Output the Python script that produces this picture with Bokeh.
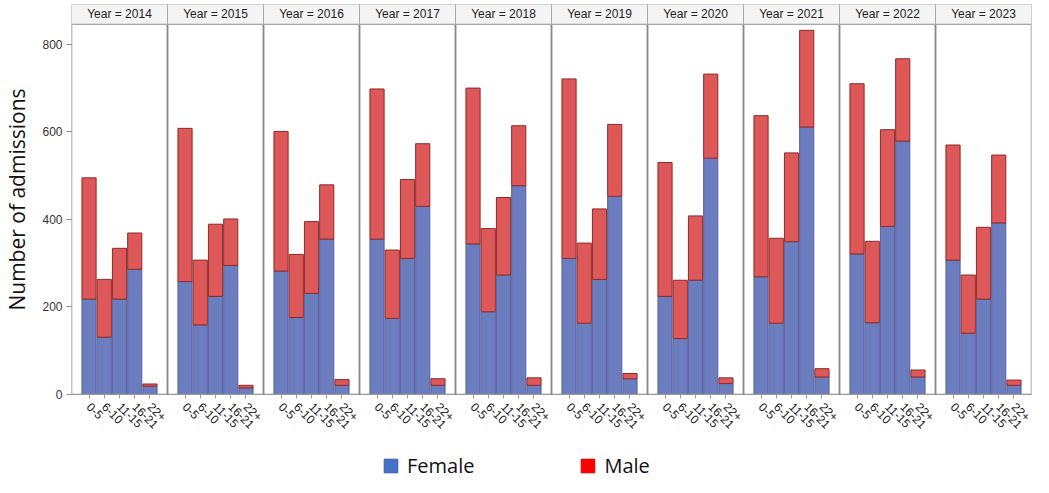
import math
from bokeh.plotting import figure
from bokeh.layouts import column
from bokeh.models import (FactorRange, ColumnDataSource, FixedTicker, Legend,
                          LegendItem, Range1d)
from bokeh.embed import file_html
from bokeh.resources import INLINE
from bokeh.core.properties import value

# ---------------- data ----------------
years = ["2014", "2015", "2016", "2017", "2018", "2019", "2020", "2021", "2022", "2023"]
ages = ["0-5", "6-10", "11-15", "16-21", "22+"]

female = [
    [218, 131, 218, 286, 19],   # 2014
    [258, 159, 224, 295, 15],   # 2015
    [282, 176, 231, 355, 21],   # 2016
    [355, 174, 311, 430, 21],   # 2017
    [344, 189, 273, 477, 21],   # 2018
    [311, 163, 263, 453, 36],   # 2019
    [224, 128, 261, 540, 25],   # 2020
    [269, 163, 349, 611, 40],   # 2021
    [321, 164, 384, 579, 40],   # 2022
    [307, 140, 218, 392, 21],   # 2023
]
total = [
    [495, 263, 334, 369, 24],
    [608, 307, 389, 401, 21],
    [601, 320, 395, 479, 34],
    [698, 330, 491, 573, 36],
    [700, 379, 450, 614, 38],
    [721, 346, 424, 617, 48],
    [530, 261, 408, 732, 38],
    [637, 357, 552, 832, 59],
    [710, 350, 605, 767, 56],
    [570, 273, 382, 547, 33],
]
y_ticks = [0, 200, 400, 600, 800]

# ---------------- derived ----------------
male = [[t - f for t, f in zip(tr, fr)] for tr, fr in zip(total, female)]
factors = [(y, a) for y in years for a in ages]
src = ColumnDataSource(dict(
    x=factors,
    Female=[v for r in female for v in r],
    Male=[v for r in male for v in r],
))

GROUP_PAD = 1.3
PANEL_W = len(ages) + GROUP_PAD
Y_TOP = 891
STRIP_BOTTOM = 846

x_range = FactorRange(*factors, factor_padding=0, group_padding=GROUP_PAD,
                      range_padding=GROUP_PAD / 2, range_padding_units="absolute")

p = figure(x_range=x_range, y_range=Range1d(0, Y_TOP), width=1033, height=446,
           output_backend="svg", toolbar_location=None,
           min_border_left=70, min_border_right=2, min_border_top=4,
           min_border_bottom=52)
p.outline_line_color = None
p.xgrid.visible = False
p.ygrid.visible = False
p.background_fill_color = "white"

BAR_BLUE = "#6b7dbf"
BAR_RED = "#dd5858"
p.vbar_stack(["Female", "Male"], x="x", width=0.93, source=src,
             fill_color=[BAR_BLUE, BAR_RED],
             line_color=["#55639c", "#8e2a2a"], line_width=1)

# panel frames
p.rect(x=years, y=STRIP_BOTTOM / 2, width=PANEL_W, height=STRIP_BOTTOM,
       fill_color=None, line_color="#8a8a8a", line_width=1.5)
# strips
strip_mid = (STRIP_BOTTOM + Y_TOP) / 2
p.rect(x=years, y=strip_mid, width=PANEL_W, height=Y_TOP - STRIP_BOTTOM,
       fill_color="#f4f4f4", line_color="#a8a8a8", line_width=1)
p.text(x=years, y=[strip_mid] * len(years),
       text=["Year = " + y for y in years],
       text_align="center", text_baseline="middle", text_font_size="12px",
       text_font=value("Liberation Sans"), text_color="#222222")

# y axis
yax = p.yaxis[0]
yax.ticker = FixedTicker(ticks=y_ticks)
yax.axis_line_color = None
yax.major_tick_out = 5
yax.major_tick_in = 0
yax.minor_tick_line_color = None
yax.major_tick_line_color = "#888888"
yax.major_label_text_font_size = "12px"
yax.major_label_text_font = "Liberation Sans"
yax.major_label_text_color = "#333333"
yax.major_label_standoff = 4
yax.axis_label = "Number of admissions"
yax.axis_label_text_font = "Open Sans"
yax.axis_label_text_font_style = "normal"
yax.axis_label_text_font_size = "21px"
yax.axis_label_text_color = "#111111"
yax.axis_label_standoff = 8

# x axis
xax = p.xaxis[0]
xax.major_label_orientation = -math.pi / 4
xax.major_label_text_font_size = "12px"
xax.major_label_text_font = "Liberation Sans"
xax.major_label_text_color = "#222222"
xax.major_label_standoff = 6
xax.group_text_font_size = "0px"
xax.group_text_color = None
xax.separator_line_color = None
xax.axis_line_color = "#999999"
xax.major_tick_line_color = "#999999"
xax.major_tick_out = 4
xax.major_tick_in = 0
xax.minor_tick_line_color = None

# legend in its own strip below the chart
lg = figure(width=1033, height=34, output_backend="svg", toolbar_location=None,
            x_range=Range1d(0, 1), y_range=Range1d(0, 1),
            min_border_left=0, min_border_right=0, min_border_top=0,
            min_border_bottom=0)
lg.axis.visible = False
lg.grid.visible = False
lg.outline_line_color = None
# legend swatches: glyphs kept outside the visible range, used only by the legend
lf = lg.rect(x=[-5], y=[-5], width=0.1, height=0.1,
             fill_color="#4472c4", line_color="#3a5fa8")
lm = lg.rect(x=[-5], y=[-5], width=0.1, height=0.1,
             fill_color="#ff0000", line_color="#d00000")
legend = Legend(items=[LegendItem(label="Female", renderers=[lf]),
                       LegendItem(label="Male", renderers=[lm])],
                orientation="horizontal", location=(311, 1),
                padding=0, margin=0,
                label_text_font="Open Sans", label_text_font_size="20px",
                label_text_color="#111111",
                glyph_width=17, glyph_height=17, spacing=105, label_standoff=8,
                border_line_color=None, background_fill_alpha=0)
lg.add_layout(legend)

layout = column(p, lg, spacing=0)
open("out.html", "w").write(file_html(layout, INLINE))
